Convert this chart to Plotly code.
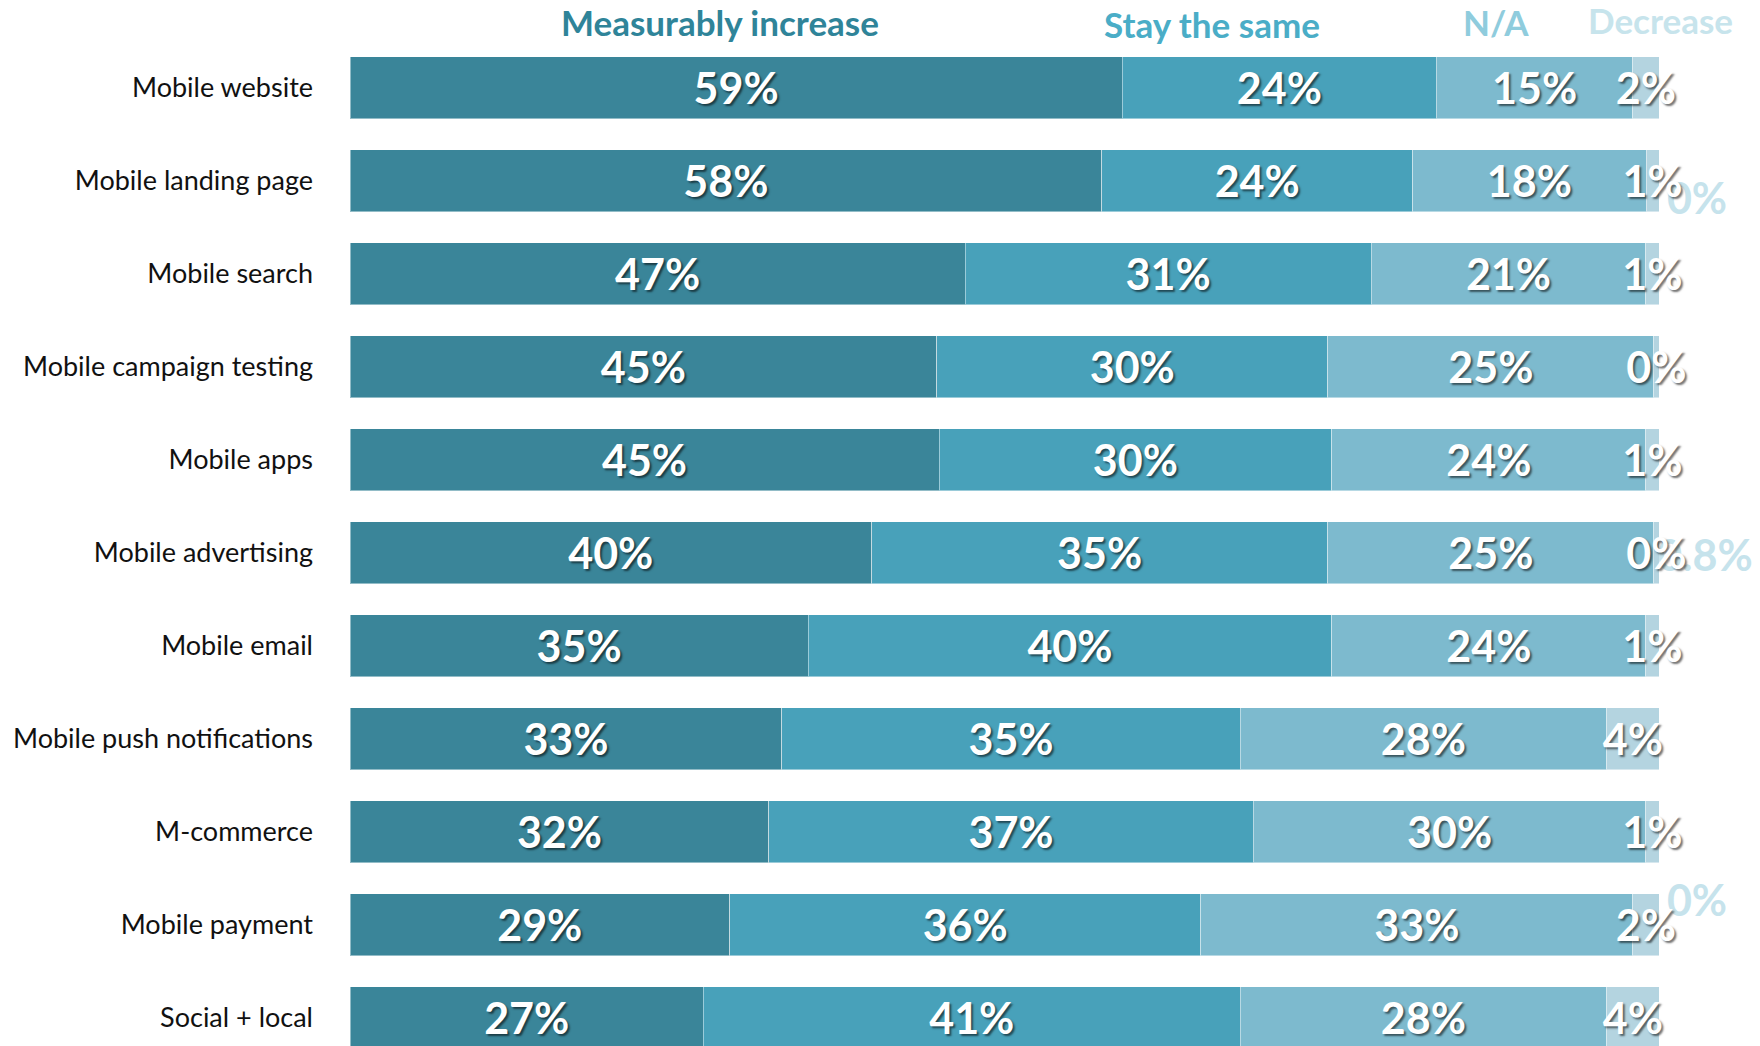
import plotly.graph_objects as go

# Survey: expected change in mobile marketing activity
categories = [
    "Mobile website", "Mobile landing page", "Mobile search",
    "Mobile campaign testing", "Mobile apps", "Mobile advertising",
    "Mobile email", "Mobile push notifications", "M-commerce",
    "Mobile payment", "Social + local",
]
measurably_increase = [59, 58, 47, 45, 45, 40, 35, 33, 32, 29, 27]
stay_the_same = [24, 24, 31, 30, 30, 35, 40, 35, 37, 36, 41]
not_applicable = [15, 18, 21, 25, 24, 25, 24, 28, 30, 33, 28]
decrease = [2, 1, 1, 0.4, 1, 0.4, 1, 4, 1, 2, 4]

series_names = ["Measurably increase", "Stay the same", "N/A", "Decrease"]
series_values = [measurably_increase, stay_the_same, not_applicable, decrease]
bar_colors = ["#3A8599", "#48A1BA", "#7DBACE", "#B4D4E0"]
header_colors = ["#2F8499", "#4AADC7", "#8FCCDD", "#C7E4EC"]

FONT = "Lato"
W, H = 1760, 1046
L, R, T, B = 350, 101, 41, 0
plot_w, plot_h = W - L - R, H - T - B


def px_x(px):
    return (px - L) / plot_w


def px_y(py):
    return (H - B - py) / plot_h


fig = go.Figure()
for name, vals, color in zip(series_names, series_values, bar_colors):
    fig.add_trace(go.Bar(
        name=name,
        y=categories,
        x=vals,
        orientation="h",
        marker=dict(color=color, line=dict(color="rgba(255,255,255,0.45)", width=1)),
        text=[f"{v:.0f}%" for v in vals],
        textposition="inside",
        insidetextanchor="middle",
        textangle=0,
        constraintext="none",
        cliponaxis=False,
        textfont=dict(family=FONT, size=43, color="white", weight="bold",
                      shadow="2px 2px 2px rgba(0,0,0,0.55)"),
        hoverinfo="skip",
    ))

# Column headers above the bars
header_pos = [(720, 22), (1212, 24), (1496, 22), (1660, 20)]
annotations = []
for name, color, (hx, hy) in zip(series_names, header_colors, header_pos):
    annotations.append(dict(
        text=name, xref="paper", yref="paper", x=px_x(hx), y=px_y(hy),
        xanchor="center", yanchor="middle", showarrow=False,
        font=dict(family=FONT, size=35, color=color, weight="bold"),
    ))

# Faint stray value labels to the right of the bars, drawn beneath the bar text
stray_labels = [("0%", 1697, 196), ("0.8%", 1705, 553), ("0%", 1697, 898)]
shapes = []
for txt, sx, sy in stray_labels:
    cx, cy = px_x(sx), px_y(sy)
    shapes.append(dict(
        type="rect", xref="paper", yref="paper",
        x0=cx - 0.03, x1=cx + 0.03, y0=cy - 0.02, y1=cy + 0.02,
        line=dict(width=0), fillcolor="rgba(0,0,0,0)", layer="below",
        label=dict(text=txt, textposition="middle center",
                   font=dict(family=FONT, size=43, color="#C6E3EC", weight="bold")),
    ))

fig.update_layout(
    width=W, height=H,
    margin=dict(l=L, r=R, t=T, b=B, pad=0),
    barmode="stack",
    barnorm="percent",
    bargap=31 / 93,
    showlegend=False,
    paper_bgcolor="white",
    plot_bgcolor="white",
    annotations=annotations,
    shapes=shapes,
    xaxis=dict(range=[0, 100], showticklabels=False, showgrid=False,
               zeroline=False, showline=False, fixedrange=True),
    yaxis=dict(type="category", categoryorder="array", categoryarray=categories,
               range=[-0.5 + plot_h / 93, -0.5], showgrid=False, zeroline=False,
               showline=False, ticks="", ticklabelstandoff=36, automargin=False,
               tickfont=dict(family=FONT, size=27, color="#111111")),
)

fig.write_html("out.html")
